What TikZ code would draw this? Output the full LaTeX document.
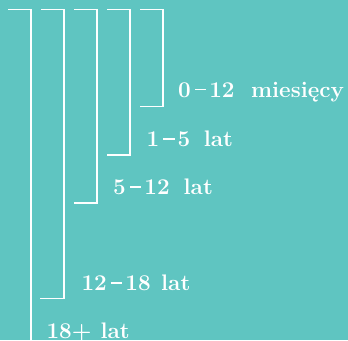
\documentclass[tikz,border=0pt]{standalone}
\usepackage{fontspec}
\definecolor{bgteal}{HTML}{5FC5C1}
\newcommand{\dsh}{\hspace{4.3pt}\rule[6.8pt]{11.2pt}{1.1pt}\hspace{3pt}}
\tikzset{
  brk/.style={draw=white, line width=1.5pt},
  lbl/.style={text=white, font=\bfseries\fontsize{22.5}{24}\selectfont, anchor=base west, inner sep=0pt}
}
\begin{document}
\begin{tikzpicture}[x=1pt,y=-1pt]
\fill[bgteal] (0,0) rectangle (348,340);
\useasboundingbox (0,0) rectangle (348,340);
% brackets
\draw[brk] (8,9.7) -- (31,9.7) -- (31,340);
\draw[brk] (41,9.7) -- (64,9.7) -- (64,298.5) -- (40,298.5);
\draw[brk] (74,9.7) -- (97,9.7) -- (97,203) -- (74,203);
\draw[brk] (107,9.7) -- (130,9.7) -- (130,155) -- (107,155);
\draw[brk] (140,9.7) -- (163,9.7) -- (163,106.7) -- (140,106.7);
% labels
\node[lbl] (a) at (177.9,97.2) {0\dsh 12\hspace{16.5pt}miesięcy};
\node[lbl] (b) at (146.3,146.3) {1\dsh 5\hspace{13.5pt}lat};
\node[lbl] (c) at (113,194.3) {5\dsh 12\hspace{14pt}lat};
\node[lbl] (d) at (81.3,290.3) {12\dsh 18\hspace{10.5pt}lat};
\node[lbl] (e) at (46.3,338.7) {18+\hspace{9pt}lat};
\end{tikzpicture}
\end{document}
